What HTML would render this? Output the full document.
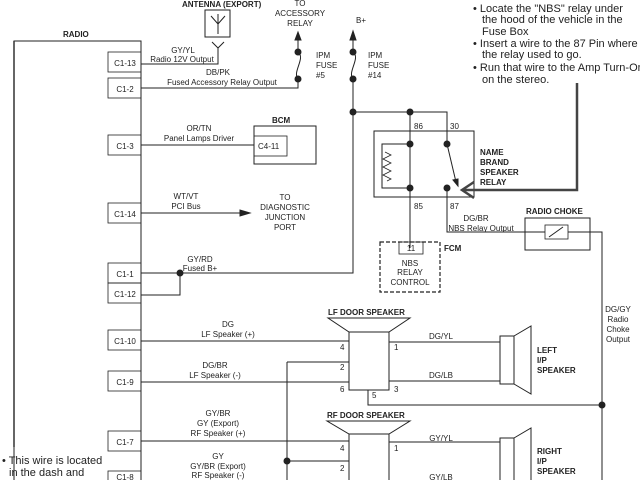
<!DOCTYPE html>
<html><head><style>
html,body{margin:0;padding:0;background:#fff;}
svg{display:block;font-family:"Liberation Sans",sans-serif;}
text{fill:#222;}
.s{font-size:8px;}
.b{font-size:8px;font-weight:bold;}
.n{font-size:11px;fill:#333;}
</style></head><body>
<svg width="640" height="480" viewBox="0 0 640 480" stroke="#222" fill="none" stroke-width="1">
<!-- Radio -->
<text class="b" x="63" y="37" stroke="none">RADIO</text>
<polyline points="14,480 14,41 141,41 141,480"/>
<line x1="14" y1="41" x2="14" y2="447" stroke="#333" stroke-width="1.5"/>
<g stroke-width="0.8">
<rect x="108" y="52" width="33" height="20"/><rect x="108" y="78" width="33" height="20"/>
<rect x="108" y="135" width="33" height="20"/><rect x="108" y="203" width="33" height="20"/>
<rect x="108" y="263" width="33" height="20"/><rect x="108" y="283" width="33" height="20"/>
<rect x="108" y="330" width="33" height="20"/><rect x="108" y="371" width="33" height="20"/>
<rect x="108" y="431" width="33" height="20"/><rect x="108" y="471" width="33" height="20"/>
</g>
<g class="s" stroke="none" text-anchor="middle">
<text x="125" y="66">C1-13</text><text x="125" y="92">C1-2</text><text x="125" y="149">C1-3</text>
<text x="125" y="217">C1-14</text><text x="125" y="277">C1-1</text><text x="125" y="297">C1-12</text>
<text x="125" y="344">C1-10</text><text x="125" y="385">C1-9</text><text x="125" y="445">C1-7</text>
<text x="125" y="480">C1-8</text>
</g>
<!-- Antenna -->
<text class="b" x="182" y="7" stroke="none">ANTENNA (EXPORT)</text>
<rect x="205" y="10" width="25" height="27"/>
<path d="M218,14 L218,34 M211,16 L218,24 L225,16 M212,42 L218,48 L224,42"/>
<polyline points="141,64 218,64 218,48"/>
<g class="s" stroke="none" text-anchor="middle">
<text x="183" y="53">GY/YL</text><text x="182" y="62">Radio 12V Output</text>
<text x="218" y="75">DB/PK</text><text x="222" y="85">Fused Accessory Relay Output</text>
<text x="300" y="6">TO</text><text x="300" y="16">ACCESSORY</text><text x="300" y="26">RELAY</text>
<text x="361" y="23">B+</text>
</g>
<!-- fuse 5 -->
<polyline points="141,88 298,88 298,79"/>
<path d="M298,52 C306,58 292,72 298,79"/>
<line x1="298" y1="52" x2="298" y2="40"/>
<path d="M298,32 L295,40 L301,40Z" fill="#222"/>
<circle cx="298" cy="52" r="3" fill="#222"/><circle cx="298" cy="79" r="3" fill="#222"/>
<g class="s" stroke="none"><text x="316" y="58">IPM</text><text x="316" y="68">FUSE</text><text x="316" y="78">#5</text>
<text x="368" y="58">IPM</text><text x="368" y="68">FUSE</text><text x="368" y="78">#14</text></g>
<!-- fuse 14 -->
<path d="M353,52 C361,58 347,72 353,79"/>
<line x1="353" y1="52" x2="353" y2="40"/>
<path d="M353,31 L350,40 L356,40Z" fill="#222"/>
<circle cx="353" cy="52" r="3" fill="#222"/><circle cx="353" cy="79" r="3" fill="#222"/>
<polyline points="353,79 353,273 141,273"/>
<polyline points="141,295 180,295 180,273"/>
<circle cx="180" cy="273" r="3" fill="#222"/>
<circle cx="353" cy="112" r="3" fill="#222"/>
<polyline points="353,112 447,112 447,144"/>
<line x1="410" y1="112" x2="410" y2="248"/>
<circle cx="410" cy="112" r="3" fill="#222"/>
<g class="s" stroke="none" text-anchor="middle"><text x="200" y="262">GY/RD</text><text x="200" y="271">Fused B+</text></g>
<!-- BCM -->
<text class="b" x="272" y="123" stroke="none">BCM</text>
<rect x="254" y="126" width="62" height="38"/>
<rect x="254" y="136" width="33" height="20" stroke-width="0.8"/>
<text class="s" x="258" y="149" stroke="none">C4-11</text>
<line x1="141" y1="145" x2="254" y2="145"/>
<g class="s" stroke="none" text-anchor="middle"><text x="199" y="131">OR/TN</text><text x="199" y="141">Panel Lamps Driver</text>
<text x="186" y="199">WT/VT</text><text x="186" y="209">PCI Bus</text>
<text x="285" y="200">TO</text><text x="285" y="210">DIAGNOSTIC</text><text x="285" y="220">JUNCTION</text><text x="285" y="230">PORT</text></g>
<line x1="141" y1="213" x2="240" y2="213"/>
<path d="M250,213 L240,210 L240,216Z" fill="#222"/>
<!-- Relay -->
<rect x="374" y="131" width="100" height="66"/>
<g class="s" stroke="none"><text x="414" y="129">86</text><text x="450" y="129">30</text><text x="414" y="209">85</text><text x="450" y="209">87</text></g>
<polyline points="410,144 382,144 382,188 410,188"/>
<path d="M385,152 l6,3 l-8,4 l8,4 l-8,4 l8,4 l-8,4 l8,4 l-4,2" stroke-width="0.8"/>
<circle cx="410" cy="144" r="3" fill="#222"/><circle cx="410" cy="188" r="3" fill="#222"/>
<circle cx="447" cy="144" r="3" fill="#222"/><circle cx="447" cy="188" r="3" fill="#222"/>
<line x1="447" y1="144" x2="456" y2="182"/><path d="M458,186 l-5,-6 l5,-1Z" fill="#222"/>
<polyline points="447,188 447,232 485,232"/>
<g class="b" stroke="none"><text x="480" y="155">NAME</text><text x="480" y="165">BRAND</text><text x="480" y="175">SPEAKER</text><text x="480" y="185">RELAY</text></g>
<polyline points="577,83 577,190 462,190" stroke-width="2.5" stroke="#444"/>
<polyline points="474,182 462,190 474,198" stroke-width="2.5" stroke="#444"/>
<!-- FCM -->
<rect x="380" y="242" width="60" height="50" stroke-dasharray="4,2" stroke-width="1.2"/>
<rect x="399" y="242" width="24" height="12" stroke-width="0.8"/>
<g class="s" stroke="none" text-anchor="middle"><text x="411" y="251">11</text><text x="410" y="266">NBS</text><text x="410" y="275">RELAY</text><text x="410" y="285">CONTROL</text></g>
<text class="b" x="444" y="251" stroke="none">FCM</text>
<!-- Choke -->
<text class="b" x="526" y="214" stroke="none">RADIO CHOKE</text>
<rect x="525" y="218" width="65" height="32"/>
<rect x="545" y="225" width="23" height="14" stroke-width="0.8"/>
<line x1="549" y1="237" x2="563" y2="227"/>
<polyline points="485,232 545,232"/><polyline points="568,232 602,232 602,480"/>
<g class="s" stroke="none" text-anchor="middle"><text x="476" y="221">DG/BR</text><text x="481" y="231">NBS Relay Output</text>
<text x="618" y="312">DG/GY</text><text x="618" y="322">Radio</text><text x="618" y="332">Choke</text><text x="618" y="342">Output</text></g>
<circle cx="602" cy="405" r="3" fill="#222"/>
<!-- LF door speaker -->
<text class="b" x="328" y="315" stroke="none">LF DOOR SPEAKER</text>
<path d="M328,318 L410,318 L389,332 L349,332Z"/>
<rect x="349" y="332" width="40" height="58"/>
<polyline points="368,390 368,405 602,405"/>
<line x1="141" y1="341" x2="349" y2="341"/>
<line x1="287" y1="362" x2="349" y2="362"/>
<line x1="141" y1="382" x2="349" y2="382"/>
<line x1="287" y1="362" x2="287" y2="480"/>
<g class="s" stroke="none"><text x="340" y="350">4</text><text x="340" y="370">2</text><text x="340" y="392">6</text><text x="372" y="398">5</text><text x="394" y="350">1</text><text x="394" y="392">3</text></g>
<g class="s" stroke="none" text-anchor="middle"><text x="228" y="327">DG</text><text x="228" y="337">LF Speaker (+)</text>
<text x="215" y="368">DG/BR</text><text x="215" y="378">LF Speaker (-)</text>
<text x="218" y="416">GY/BR</text><text x="218" y="426">GY (Export)</text><text x="218" y="436">RF Speaker (+)</text>
<text x="218" y="459">GY</text><text x="218" y="469">GY/BR (Export)</text><text x="218" y="478">RF Speaker (-)</text>
<text x="441" y="339">DG/YL</text><text x="441" y="378">DG/LB</text><text x="441" y="441">GY/YL</text><text x="441" y="480">GY/LB</text></g>
<line x1="389" y1="342" x2="500" y2="342"/><line x1="389" y1="381" x2="500" y2="381"/>
<rect x="500" y="336" width="14" height="48"/>
<path d="M514,336 L531,326 L531,394 L514,384"/>
<g class="b" stroke="none"><text x="537" y="353">LEFT</text><text x="537" y="363">I/P</text><text x="537" y="373">SPEAKER</text>
<text x="537" y="454">RIGHT</text><text x="537" y="464">I/P</text><text x="537" y="474">SPEAKER</text></g>
<!-- RF door speaker -->
<text class="b" x="327" y="418" stroke="none">RF DOOR SPEAKER</text>
<path d="M327,421 L410,421 L389,434 L349,434Z"/>
<polyline points="349,480 349,434 389,434 389,480"/>
<line x1="141" y1="441" x2="349" y2="441"/>
<line x1="287" y1="461" x2="349" y2="461"/>
<circle cx="287" cy="461" r="3" fill="#222"/>
<g class="s" stroke="none"><text x="340" y="451">4</text><text x="340" y="471">2</text><text x="394" y="451">1</text></g>
<line x1="389" y1="442" x2="500" y2="442"/>
<polyline points="500,480 500,438 514,438 514,480"/>
<path d="M514,438 L531,428 L531,480"/>
<!-- Notes -->
<g class="n" stroke="none">
<text x="473" y="12">• Locate   the "NBS" relay under</text>
<text x="482" y="23">the hood of the vehicle in the</text>
<text x="482" y="35">Fuse Box</text>
<text x="473" y="47">• Insert a wire to the 87 Pin where</text>
<text x="482" y="58">the relay used to go.</text>
<text x="473" y="71">• Run that wire to the Amp Turn-On</text>
<text x="482" y="83">on the stereo.</text>
<text x="2" y="464">• This wire is located</text>
<text x="9" y="476">in the dash and</text>
</g>
</svg>
</body></html>
